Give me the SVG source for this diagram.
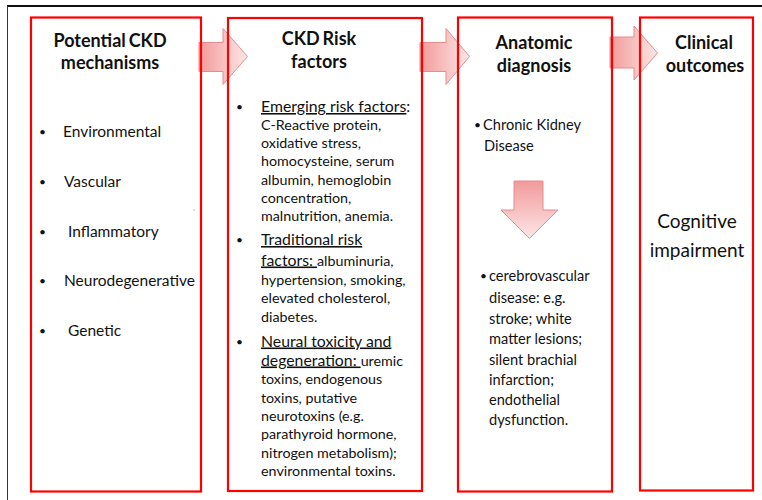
<svg xmlns="http://www.w3.org/2000/svg" width="762" height="500" viewBox="0 0 762 500">
<defs>
<linearGradient id="gh" x1="0" y1="0" x2="1" y2="0">
<stop offset="0" stop-color="#f29a9a"/>
<stop offset="1" stop-color="#fde6e6"/>
</linearGradient>
<linearGradient id="gv" x1="0" y1="0" x2="0" y2="1">
<stop offset="0" stop-color="#f29a9a"/>
<stop offset="1" stop-color="#fde6e6"/>
</linearGradient>
<style>
text{font-family:Lato,"Liberation Sans",sans-serif;fill:#111}
.t{font-weight:bold;font-size:18px;text-anchor:middle;word-spacing:-1.5px}
.b1{font-size:15.5px}
.h{font-size:15.8px}
.s{font-size:14.3px}
.b3{font-size:14.6px}
.bl{font-size:12px}
.c{font-size:19px;text-anchor:middle}
.u{text-decoration:underline}
.box{fill:none;stroke:#ff0000;stroke-width:2.2}
.arr{stroke:#e58c8c;stroke-width:1}
</style>
</defs>
<rect width="762" height="500" fill="#ffffff"/>
<g id="frame">
<line x1="7" y1="6" x2="762" y2="6" stroke="#111" stroke-width="2"/>
<line x1="7.5" y1="6" x2="7.5" y2="500" stroke="#333" stroke-width="1"/>
</g>
<g id="connectors">
<path class="arr" fill="url(#gh)" d="M199,42.5 H223 V28.5 L247.5,56.5 L223,84.5 V71.5 H199 Z"/>
<path class="arr" fill="url(#gh)" d="M420,42.5 H446 V28.5 L469.5,56.5 L446,84.5 V71.5 H420 Z"/>
<path class="arr" fill="url(#gh)" d="M610,37 H634 V26 L657.5,53 L634,80 V68 H610 Z"/>
</g>
<g id="mechanisms">
<rect class="box" x="31" y="17.5" width="170" height="474"/>
<text class="t" x="110" y="47">Potential CKD</text>
<text class="t" x="110" y="69">mechanisms</text>
<text class="bl" x="39" y="136">•</text><text class="b1" x="63" y="137">Environmental</text>
<text class="bl" x="39" y="186">•</text><text class="b1" x="64" y="187">Vascular</text>
<text class="bl" x="39" y="236">•</text><text class="b1" x="68" y="237">Inflammatory</text>
<text class="bl" x="39" y="285">•</text><text class="b1" x="64" y="286">Neurodegenerative</text>
<text class="bl" x="39" y="335">•</text><text class="b1" x="68" y="336">Genetic</text>
<rect x="193.5" y="209.5" width="1" height="1" fill="#888"/>
</g>
<g id="risk-factors">
<rect class="box" x="228" y="18" width="194" height="473"/>
<text class="t" x="319" y="45">CKD Risk</text>
<text class="t" x="319" y="68">factors</text>
<text class="bl" x="236" y="111">•</text>
<text class="h" x="261" y="112"><tspan class="u">Emerging risk factors</tspan>:</text>
<text class="s" x="261" y="129.5">C-Reactive protein,</text>
<text class="s" x="261" y="148">oxidative stress,</text>
<text class="s" x="261" y="166">homocysteine, serum</text>
<text class="s" x="261" y="184.5">albumin, hemoglobin</text>
<text class="s" x="261" y="202.5">concentration,</text>
<text class="s" x="261" y="220.5">malnutrition, anemia.</text>
<text class="bl" x="236" y="244">•</text>
<text class="h" x="261" y="245"><tspan class="u">Traditional risk</tspan></text>
<text x="261" y="265.5"><tspan class="h u">factors:&#160;</tspan><tspan class="s">albuminuria,</tspan></text>
<text class="s" x="261" y="284.5">hypertension, smoking,</text>
<text class="s" x="261" y="303">elevated cholesterol,</text>
<text class="s" x="261" y="321.5">diabetes.</text>
<text class="bl" x="236" y="345.5">•</text>
<text class="h" x="261" y="346.5"><tspan class="u">Neural toxicity and</tspan></text>
<text x="261" y="365.5"><tspan class="h u">degeneration:&#160;</tspan><tspan class="s">uremic</tspan></text>
<text class="s" x="261" y="384">toxins, endogenous</text>
<text class="s" x="261" y="402.5">toxins, putative</text>
<text class="s" x="261" y="420.5">neurotoxins (e.g.</text>
<text class="s" x="261" y="439">parathyroid hormone,</text>
<text class="s" x="261" y="457.5">nitrogen metabolism);</text>
<text class="s" x="261" y="475.5">environmental toxins.</text>
</g>
<g id="anatomic-diagnosis">
<rect class="box" x="458" y="17.5" width="154" height="474"/>
<text class="t" x="534" y="49">Anatomic</text>
<text class="t" x="534" y="72">diagnosis</text>
<text class="bl" x="474" y="128.5">•</text>
<text class="b3" x="483" y="129.5">Chronic Kidney</text>
<text class="b3" x="484" y="150.5">Disease</text>
<path class="arr" fill="url(#gv)" d="M514,181 H543 V210 H558 L529.5,238.5 L501,210 H514 Z"/>
<text class="bl" x="480" y="280">•</text>
<text class="b3" x="489" y="281">cerebrovascular</text>
<text class="b3" x="489" y="302.5">disease:  e.g.</text>
<text class="b3" x="489" y="323.5">stroke; white</text>
<text class="b3" x="489" y="344">matter lesions;</text>
<text class="b3" x="489" y="364.5">silent brachial</text>
<text class="b3" x="489" y="384.5">infarction;</text>
<text class="b3" x="489" y="404.5">endothelial</text>
<text class="b3" x="489" y="424.5">dysfunction.</text>
</g>
<g id="clinical-outcomes">
<rect class="box" x="640" y="17.5" width="113" height="473"/>
<text class="t" x="704" y="49">Clinical</text>
<text class="t" x="705" y="72">outcomes</text>
<text class="c" x="697" y="228">Cognitive</text>
<text class="c" x="697" y="256.5">impairment</text>
</g>
</svg>
